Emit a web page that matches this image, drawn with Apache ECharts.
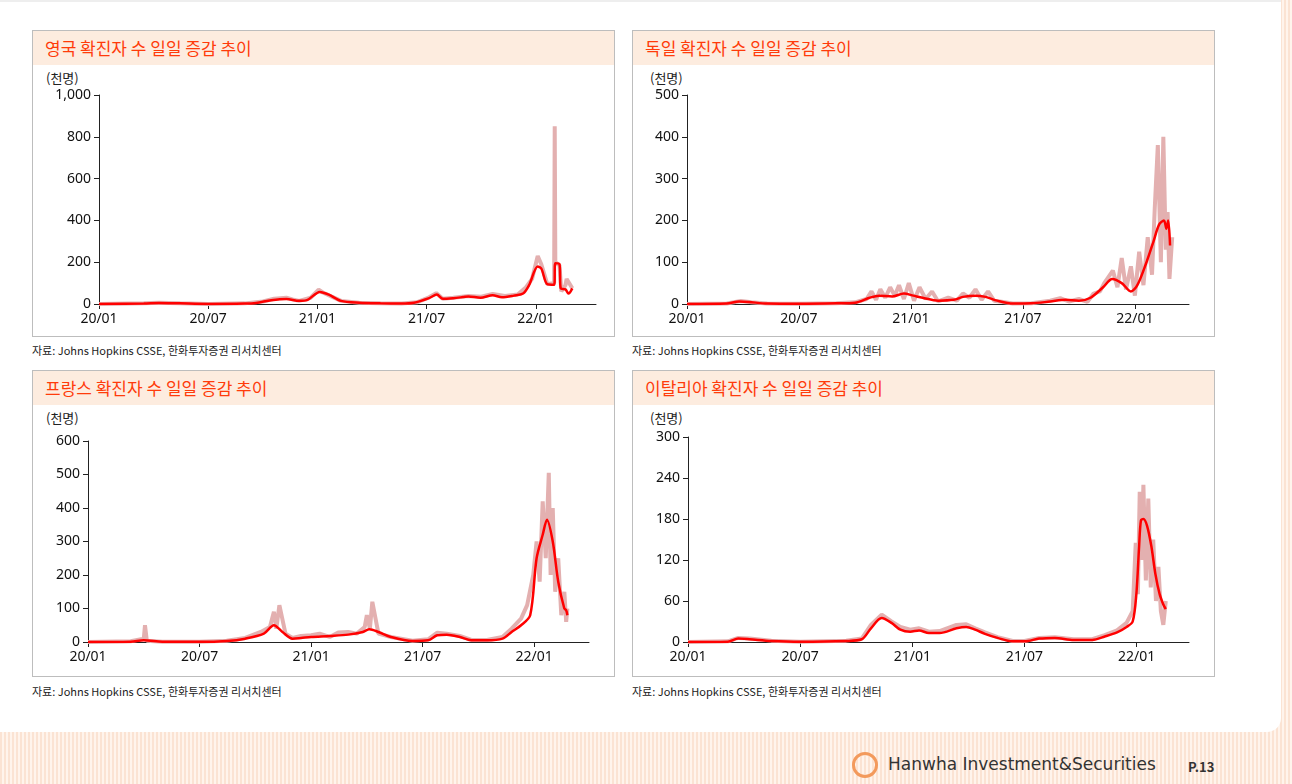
<!DOCTYPE html>
<html><head><meta charset="utf-8">
<script src="https://cdn.jsdelivr.net/npm/echarts@6/dist/echarts.min.js"></script>
<style>
body{margin:0;width:1292px;height:784px;overflow:hidden;font-family:"Noto Sans CJK KR","Noto Sans",sans-serif;
 background:repeating-linear-gradient(90deg,#fbe3d3 0 2px,#fff4ec 2px 4px);position:relative}
#page{position:absolute;left:0;top:0;width:1281px;height:730px;background:#fff;border-bottom-right-radius:14px;border-top:2px solid #eee}
.box{position:absolute;width:581px;height:305px;border:1px solid #bdbdbd;background:#fff}
.ttl{height:34px;background:#fdecdf;color:#ff3b0a;font-size:17px;line-height:34px;padding-left:12px}
.unit{position:absolute;font-size:13px;color:#222}
.src{position:absolute;font-size:11px;color:#222}
.ch{position:absolute;left:0;right:0;bottom:0}
</style></head><body>
<div id="page"></div>
<div class="box" style="left:32px;top:30px"><div class="ttl">영국 확진자 수 일일 증감 추이</div><div class="unit" style="left:13px;top:37px">(천명)</div><div id="c1" class="ch" style="top:34px"></div></div>
<div class="box" style="left:632px;top:30px"><div class="ttl">독일 확진자 수 일일 증감 추이</div><div class="unit" style="left:17px;top:37px">(천명)</div><div id="c2" class="ch" style="top:34px"></div></div>
<div class="box" style="left:32px;top:370px"><div class="ttl">프랑스 확진자 수 일일 증감 추이</div><div class="unit" style="left:13px;top:37px">(천명)</div><div id="c3" class="ch" style="top:34px"></div></div>
<div class="box" style="left:632px;top:370px"><div class="ttl">이탈리아 확진자 수 일일 증감 추이</div><div class="unit" style="left:17px;top:37px">(천명)</div><div id="c4" class="ch" style="top:34px"></div></div>
<div class="src" style="left:32px;top:342px">자료: Johns Hopkins CSSE, 한화투자증권 리서치센터</div>
<div class="src" style="left:632px;top:342px">자료: Johns Hopkins CSSE, 한화투자증권 리서치센터</div>
<div class="src" style="left:32px;top:683px">자료: Johns Hopkins CSSE, 한화투자증권 리서치센터</div>
<div class="src" style="left:632px;top:683px">자료: Johns Hopkins CSSE, 한화투자증권 리서치센터</div>
<div style="position:absolute;left:852px;top:752px;width:26px;height:26px;border:3px solid #f39a5c;border-radius:50%;box-sizing:border-box"></div>
<div style="position:absolute;left:888px;top:754px;font-size:17px;color:#333;font-family:'DejaVu Sans'">Hanwha Investment&amp;Securities</div>
<div style="position:absolute;left:1188px;top:757px;font-size:13px;font-weight:bold;color:#333">P.13</div>
<script>
// 영국
const ukDates = ['20-01-01','20-03-15','20-04-10','20-05-15','20-07-01','20-09-01','20-09-20','20-10-15','20-11-10','20-12-01','20-12-15','21-01-05','21-01-20','21-02-10','21-03-10','21-04-15','21-05-20','21-06-10','21-07-05','21-07-18','21-07-28','21-08-15','21-09-01','21-09-10','21-09-30','21-10-20','21-11-05','21-11-25','21-12-10','21-12-20','22-01-04','22-01-10','22-01-20','22-02-01','22-02-03','22-02-10','22-02-12','22-02-20','22-02-25','22-03-01'];
const ukAvg = [0,2,5,3,0.5,2,5,18,24,15,20,58,45,15,6,3,2,6,28,45,25,28,33,36,30,42,32,40,50,90,180,170,95,92,195,190,75,70,50,75];
const ukRawDates = ['20-01-01','20-03-15','20-04-10','20-05-15','20-07-01','20-09-01','20-10-01','20-10-20','20-11-10','20-11-20','20-12-01','20-12-20','21-01-03','21-01-10','21-01-25','21-02-10','21-03-10','21-04-15','21-05-20','21-06-15','21-07-05','21-07-17','21-07-28','21-08-15','21-09-10','21-10-01','21-10-20','21-11-10','21-12-01','21-12-15','21-12-25','22-01-04','22-01-10','22-01-20','22-02-01','22-02-02','22-02-03','22-02-10','22-02-13','22-02-20','22-02-22','22-03-01'];
const ukRaw = [0,3,6,3,0.5,3,12,25,30,22,15,30,68,55,35,15,6,3,2,8,32,52,25,30,38,35,48,38,45,80,120,230,190,95,100,850,200,185,60,90,120,75];
// 독일
const deDates = ['20-01-01','20-03-05','20-03-25','20-04-10','20-05-10','20-07-01','20-09-01','20-10-01','20-10-25','20-11-10','20-12-01','20-12-20','21-01-05','21-01-20','21-02-15','21-03-10','21-03-25','21-04-15','21-05-01','21-05-20','21-06-15','21-07-15','21-08-15','21-09-10','21-10-01','21-10-20','21-11-10','21-11-25','21-12-10','21-12-25','22-01-05','22-01-20','22-02-01','22-02-10','22-02-18','22-02-22','22-02-25','22-02-28'];
const deAvg = [0,1,6,5,1,0.5,1.5,3,15,20,18,25,20,15,8,10,17,20,17,8,1,1.5,6,10,8,15,40,60,50,30,45,100,150,190,200,180,200,140];
const deRawDates = ['20-01-01','20-03-05','20-03-28','20-04-15','20-05-10','20-07-01','20-09-01','20-10-01','20-10-20','20-10-28','20-11-05','20-11-12','20-11-20','20-11-28','20-12-05','20-12-12','20-12-20','20-12-28','21-01-06','21-01-15','21-01-25','21-02-05','21-02-15','21-03-01','21-03-15','21-03-25','21-04-05','21-04-15','21-04-25','21-05-05','21-05-15','21-05-30','21-06-15','21-07-15','21-08-15','21-09-01','21-09-15','21-10-01','21-10-15','21-10-25','21-11-05','21-11-12','21-11-19','21-11-26','21-12-03','21-12-10','21-12-17','21-12-25','22-01-01','22-01-08','22-01-15','22-01-22','22-01-29','22-02-03','22-02-08','22-02-13','22-02-17','22-02-21','22-02-24','22-02-27','22-03-01'];
const deRaw = [0,1,7,4,1,0.5,2,4,12,30,10,35,15,40,20,45,12,50,8,40,12,30,6,15,8,25,15,35,10,30,8,5,1,2,8,14,6,12,5,25,30,50,65,80,40,110,35,90,20,125,45,160,70,230,380,100,400,130,220,60,160];
// 프랑스
const frDates = ['20-01-01','20-03-10','20-04-01','20-05-01','20-07-01','20-08-15','20-09-15','20-10-15','20-11-01','20-11-15','20-12-01','20-12-15','21-01-01','21-02-01','21-03-01','21-03-25','21-04-05','21-04-20','21-05-10','21-06-15','21-07-10','21-07-25','21-08-10','21-09-01','21-09-20','21-10-15','21-11-10','21-11-25','21-12-10','21-12-25','22-01-05','22-01-15','22-01-22','22-02-01','22-02-10','22-02-20','22-02-23','22-02-25'];
const frAvg = [0,1,5,1,0.5,3,10,25,50,30,10,12,15,18,22,30,38,30,15,3,5,20,22,15,5,5,10,30,50,80,250,320,365,300,180,100,95,80];
const frRawDates = ['20-01-01','20-03-10','20-04-01','20-04-03','20-04-06','20-05-01','20-07-01','20-08-15','20-09-15','20-10-10','20-10-25','20-11-01','20-11-05','20-11-10','20-11-20','20-12-01','20-12-15','21-01-01','21-01-15','21-02-01','21-02-15','21-03-01','21-03-15','21-03-28','21-04-01','21-04-06','21-04-10','21-04-20','21-05-10','21-06-15','21-07-10','21-07-25','21-08-10','21-09-01','21-09-20','21-10-15','21-11-10','21-11-25','21-12-10','21-12-20','21-12-30','22-01-05','22-01-10','22-01-15','22-01-20','22-01-25','22-01-28','22-02-01','22-02-05','22-02-10','22-02-15','22-02-20','22-02-23','22-02-25'];
const frRaw = [0,2,10,50,4,1,0.5,4,12,30,45,90,40,110,25,12,18,20,25,15,28,30,25,45,80,40,120,25,15,4,8,28,25,18,6,6,15,40,70,110,200,300,180,420,250,505,200,400,150,250,80,150,60,100];
// 이탈리아
const itDates = ['20-01-01','20-03-05','20-03-22','20-04-10','20-05-15','20-07-01','20-09-15','20-10-10','20-10-25','20-11-12','20-11-28','20-12-12','20-12-28','21-01-12','21-01-28','21-02-15','21-03-12','21-03-28','21-04-12','21-04-28','21-05-18','21-06-12','21-07-01','21-07-25','21-08-20','21-09-20','21-10-20','21-11-10','21-11-30','21-12-15','21-12-25','21-12-31','22-01-05','22-01-08','22-01-12','22-01-18','22-01-25','22-02-01','22-02-08','22-02-14','22-02-18'];
const itAvg = [0,0.5,5,4,1.5,0.3,1.5,4,20,35,28,18,15,17,13,13,20,22,18,12,6,1,1,5,6,3,3,8,14,22,30,70,140,178,180,170,140,100,70,55,48];
const itRawDates = ['20-01-01','20-03-05','20-03-22','20-04-10','20-05-15','20-07-01','20-09-15','20-10-10','20-10-25','20-11-12','20-11-28','20-12-12','20-12-28','21-01-12','21-01-28','21-02-15','21-03-12','21-03-28','21-04-12','21-04-28','21-05-18','21-06-12','21-07-01','21-07-25','21-08-20','21-09-20','21-10-20','21-11-10','21-11-30','21-12-15','21-12-25','21-12-30','22-01-03','22-01-06','22-01-09','22-01-12','22-01-16','22-01-20','22-01-24','22-01-28','22-02-02','22-02-06','22-02-10','22-02-14','22-02-18'];
const itRaw = [0,1,6,5,2,0.3,2,5,25,40,30,22,18,20,15,16,25,26,20,14,7,1.5,1.5,6,7,4,4,10,17,28,45,145,70,220,120,230,90,210,80,150,60,110,45,25,60];

const toM = d => { const [y,m,dd] = d.split('-').map(Number); return (y-20)*12 + (m-1) + (dd-1)/30.5; };
const pairs = (ds, vs) => ds.map((d,i) => [toM(d), vs[i]]);
const fmtX = v => { const y = 20 + Math.floor(v/12), m = v%12 + 1; return y + '/' + (m<10?'0':'') + m; };

function make(id, grid, xmax, ymax, yint, yfmt, avgD, avg, rawD, raw) {
  const c = echarts.init(document.getElementById(id));
  c.setOption({
    animation:false,
    grid: grid,
    xAxis: {type:'value', min:0, max:xmax, interval:6,
      axisLine:{lineStyle:{color:'#222'}}, axisTick:{lineStyle:{color:'#222'}},
      axisLabel:{color:'#111', fontSize:14, fontFamily:'Noto Sans', formatter:v => v%6===0 && v<=24 ? fmtX(v) : '', showMaxLabel:false},
      splitLine:{show:false}},
    yAxis: {type:'value', min:0, max:ymax, interval:yint,
      axisLine:{show:true, lineStyle:{color:'#222'}}, axisTick:{show:true, lineStyle:{color:'#222'}},
      axisLabel:{color:'#111', fontSize:14, fontFamily:'Noto Sans', formatter:yfmt},
      splitLine:{show:false}},
    series: [
      {type:'line', data:pairs(rawD, raw), symbol:'none', lineStyle:{color:'#e3b0b0', width:4}},
      {type:'line', data:pairs(avgD, avg), symbol:'none', smooth:0.3, lineStyle:{color:'#ff0000', width:2.5}}
    ]
  });
}
const comma = v => v >= 1000 ? '1,000' : v;
make('c1', {left:66, right:18, top:30, bottom:32}, 27.3, 1000, 200, comma, ukDates, ukAvg, ukRawDates, ukRaw);
make('c2', {left:54, right:25, top:30, bottom:32}, 26.9, 500, 100, v=>v, deDates, deAvg, deRawDates, deRaw);
make('c3', {left:55, right:25, top:36, bottom:34}, 26.95, 600, 100, v=>v, frDates, frAvg, frRawDates, frRaw);
make('c4', {left:55, right:25, top:32, bottom:34}, 26.8, 300, 60, v=>v, itDates, itAvg, itRawDates, itRaw);
</script>
</body></html>
